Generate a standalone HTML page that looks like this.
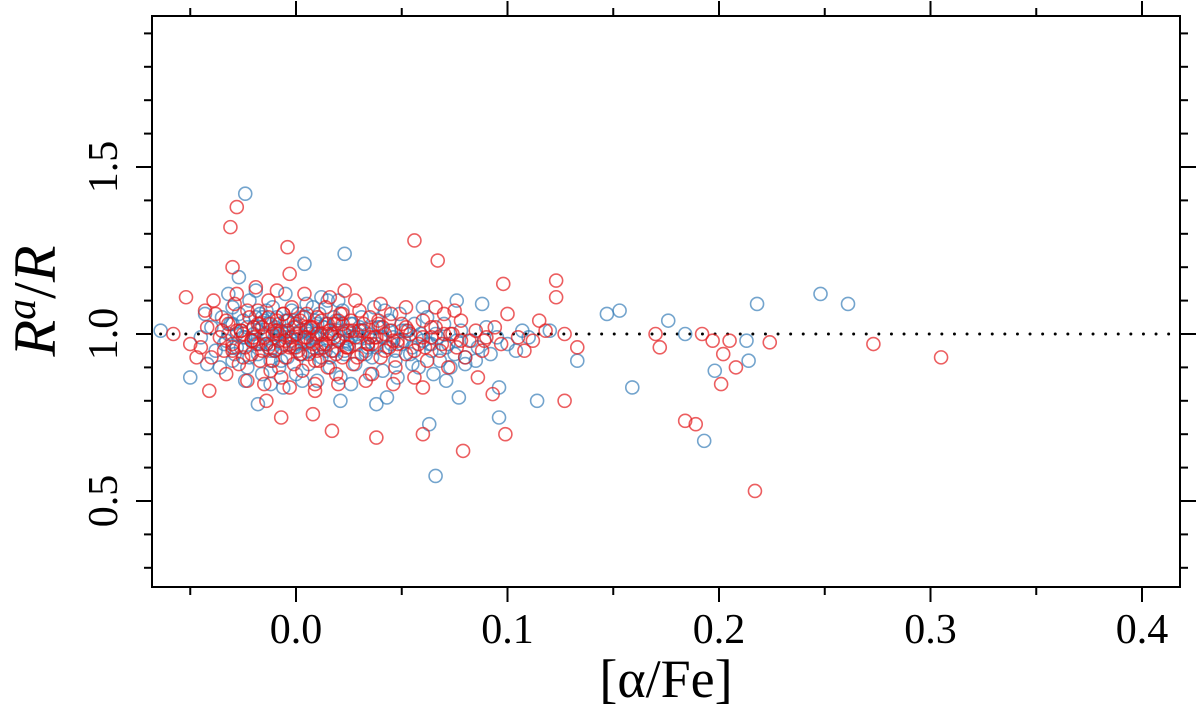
<!DOCTYPE html>
<html><head><meta charset="utf-8"><style>
html,body{margin:0;padding:0;background:#fff;}
svg{display:block;font-family:"Liberation Serif",serif;}
</style></head><body>
<svg id="chart" width="1200" height="719" viewBox="0 0 1200 719">
<g id="ticks"></g>
<g id="pts"></g>
<rect x="152" y="16" width="1028" height="571" fill="none" stroke="#000" stroke-width="2"/>
<g id="labels"></g>
<text x="666" y="697" font-size="54" text-anchor="middle">[α/Fe]</text>
<text transform="translate(55,301) rotate(-90)" font-size="60" text-anchor="middle" font-style="italic">R<tspan font-size="42" dy="-20">a</tspan><tspan dy="20" font-style="normal">/</tspan>R</text>
</svg>
<script>
const xTicks=[0.0,0.1,0.2,0.3,0.4];
const xTickLabels=["0.0","0.1","0.2","0.3","0.4"];
const yTicks=[0.5,1.0,1.5];
const yTickLabels=["0.5","1.0","1.5"];
const blueX=[-0.024,0.023,0.004,0.066,0.248,0.261,0.218,0.193,-0.05,-0.064,0.147,0.153,0.159,0.176,0.184,0.198,0.213,0.214,0.133,0.114,0.107,0.096,0.096,0.12,0.088,0.076,0.063,-0.018,0.038,0.043,0.021,0.077,0.071,0.08,
-0.04,-0.038,-0.035,-0.033,-0.03,-0.03,-0.028,-0.026,-0.025,-0.023,-0.022,-0.02,-0.02,-0.018,-0.017,-0.016,-0.015,-0.014,-0.013,-0.012,-0.011,-0.01,-0.01,-0.009,-0.008,-0.007,-0.006,-0.005,-0.005,-0.004,-0.003,-0.002,-0.001,0,0,0.001,0.002,0.003,0.004,0.005,0.006,0.007,0.008,0.009,0.01,0.01,0.011,0.012,0.013,0.014,0.015,0.016,0.017,0.018,0.019,0.02,0.021,0.022,0.023,0.024,0.025,0.027,0.028,0.03,0.031,0.033,0.034,0.036,0.037,0.038,0.04,0.041,0.043,0.044,0.046,0.047,0.049,0.05,0.052,0.054,0.056,0.058,0.06,0.062,0.064,0.066,0.068,0.07,0.072,0.075,0.078,0.08,0.083,0.086,0.09,0.092,0.095,
-0.045,-0.043,-0.042,-0.036,-0.032,-0.027,-0.024,-0.019,-0.012,-0.006,0.003,0.012,0.02,0.026,0.035,0.042,0.048,0.055,0.06,0.065,0.073,0.085,0.1,0.104,0.11,
-0.02,-0.015,-0.01,-0.005,0,0.005,0.01,0.015,-0.025,-0.018,-0.008,0.002,0.008,0.014,0.02,0.026,-0.03,0.03,-0.012,0.006,
-0.034,-0.031,-0.029,-0.027,-0.024,-0.022,-0.019,-0.017,-0.014,-0.012,-0.009,-0.007,-0.004,-0.002,0.001,0.003,0.006,0.008,0.011,0.013,0.016,0.018,0.021,0.023,0.026,0.028,0.031,0.033,0.036,0.038,0.041,0.044,0.047,0.051,0.055,0.059,0.063,0.067,0.071,0.076,
-0.032,-0.028,-0.023,-0.019,-0.016,-0.011,-0.006,-0.001,0.004,0.009,0.014,0.019,0.024,0.029,0.034,0.039,0.045,0.05,0.057,0.064];
const blueY=[1.42,1.24,1.21,0.575,1.12,1.09,1.09,0.68,0.87,1.01,1.06,1.07,0.84,1.04,1.0,0.89,0.98,0.92,0.92,0.80,1.01,0.75,0.84,1.01,1.09,1.10,0.73,0.79,0.79,0.81,0.80,0.81,0.86,0.91,
1.02,0.95,1.05,0.98,0.92,1.08,1.0,0.96,1.04,0.9,1.1,0.98,1.02,0.94,1.06,0.88,1.0,0.97,1.03,0.92,1.08,0.99,0.95,1.05,0.9,1.01,0.97,1.12,1.04,0.93,0.99,1.07,0.96,1.02,0.88,1.0,0.94,1.05,0.98,1.09,0.91,1.01,0.96,1.04,0.86,0.99,1.06,0.93,1.02,0.97,1.1,0.9,1.0,0.95,1.04,0.98,0.87,1.07,0.94,1.01,0.97,1.03,0.91,0.99,1.05,0.95,1.0,0.93,1.08,0.97,1.02,0.89,0.96,1.04,0.99,0.92,1.06,0.97,1.01,0.94,1.03,0.9,0.98,1.05,0.95,1.0,0.92,1.03,0.97,0.94,1.01,0.93,0.98,0.96,1.02,0.94,0.99,
0.99,1.06,0.91,0.9,1.12,1.17,0.86,1.13,0.85,0.84,0.86,1.11,1.1,0.85,0.88,1.07,0.87,0.91,1.08,0.88,0.9,0.92,0.97,0.95,0.99,
1.0,1.04,1.02,0.99,0.97,1.01,1.03,0.98,0.99,1.01,1.03,1.01,0.99,1.03,1.01,0.99,1.03,1.02,0.97,0.95,
0.97,1.03,0.94,1.06,0.99,0.93,1.05,0.97,1.07,0.95,1.0,0.92,1.04,0.98,1.06,0.94,1.0,1.08,0.96,1.02,0.93,1.05,0.99,0.95,1.03,0.97,1.01,0.94,1.02,0.96,0.99,1.01,0.95,0.98,0.96,1.0,0.97,0.99,0.96,0.98,
1.0,0.96,1.02,0.97,1.05,0.96,1.0,1.04,0.97,1.0,0.95,1.03,0.98,1.0,0.96,1.02,0.97,1.01,0.99,0.97];
const redX=[-0.028,-0.031,-0.052,-0.03,-0.004,0.056,0.067,-0.003,0.023,0.098,0.123,0.123,0.115,0.127,0.133,0.127,0.099,0.06,0.038,0.079,0.017,-0.007,0.008,-0.041,-0.014,0.184,0.189,0.217,0.192,0.197,0.202,0.205,0.208,0.201,0.224,0.273,0.305,0.172,0.17,0.089,0.093,
-0.045,-0.042,-0.04,-0.038,-0.036,-0.034,-0.032,-0.03,-0.029,-0.027,-0.026,-0.024,-0.022,-0.021,-0.02,-0.018,-0.017,-0.016,-0.014,-0.013,-0.012,-0.011,-0.01,-0.009,-0.008,-0.007,-0.006,-0.005,-0.004,-0.003,-0.002,-0.001,0,0.001,0.002,0.003,0.004,0.005,0.006,0.007,0.008,0.009,0.01,0.011,0.012,0.013,0.014,0.015,0.016,0.017,0.018,0.019,0.02,0.021,0.022,0.023,0.024,0.026,0.027,0.028,0.03,0.031,0.032,0.034,0.035,0.036,0.038,0.039,0.04,0.042,0.044,0.045,0.047,0.048,0.05,0.052,0.054,0.056,0.058,0.06,0.062,0.064,0.066,0.068,0.07,0.072,0.074,0.076,0.078,0.08,0.082,0.085,0.088,0.09,0.094,0.097,0.1,0.105,0.108,0.112,0.118,
-0.058,-0.05,-0.047,-0.043,-0.039,-0.033,-0.028,-0.023,-0.019,-0.015,-0.009,-0.003,0.004,0.009,0.016,0.02,0.028,0.033,0.04,0.046,0.052,0.06,0.066,0.075,0.086,
-0.02,-0.015,-0.01,-0.005,0,0.005,0.01,0.015,-0.025,-0.012,-0.002,0.008,0.018,0.025,-0.035,0.035,-0.007,0.012,0.022,-0.018,
-0.033,-0.03,-0.028,-0.025,-0.023,-0.021,-0.018,-0.016,-0.013,-0.011,-0.008,-0.006,-0.003,-0.001,0.002,0.004,0.007,0.009,0.012,0.014,0.017,0.019,0.022,0.024,0.027,0.029,0.032,0.034,0.037,0.039,0.042,0.045,0.048,0.052,0.056,0.06,0.064,0.069,0.073,0.078,
-0.03,-0.026,-0.021,-0.017,-0.013,-0.009,-0.004,0.0,0.005,0.01,0.015,0.02,0.025,0.03,0.036,0.041,0.046,0.053,0.061,0.07];
const redY=[1.38,1.32,1.11,1.20,1.26,1.28,1.22,1.18,1.13,1.15,1.16,1.11,1.04,1.0,0.96,0.80,0.70,0.70,0.69,0.65,0.71,0.75,0.76,0.83,0.80,0.74,0.73,0.53,1.0,0.98,0.94,0.98,0.90,0.85,0.975,0.97,0.93,0.96,1.0,0.98,0.82,
0.96,1.02,0.93,1.06,0.99,0.95,1.03,0.97,1.09,0.91,1.01,0.96,1.05,0.94,0.99,1.07,0.92,1.02,0.97,1.1,0.89,1.0,0.95,1.04,0.98,0.87,1.06,0.93,1.01,0.97,1.08,0.91,1.0,0.95,1.04,0.89,0.99,1.06,0.94,1.02,0.97,0.85,1.05,0.92,1.0,0.96,1.08,0.9,1.01,0.95,1.03,0.88,0.98,1.06,0.93,1.0,0.96,1.04,0.91,0.99,1.07,0.94,1.01,0.97,1.05,0.88,0.99,1.03,0.93,1.0,0.96,1.06,0.9,0.98,1.03,0.94,1.0,0.87,0.97,1.04,0.92,0.99,1.02,0.95,1.06,0.9,1.0,0.96,1.04,0.93,0.98,1.01,0.95,0.99,1.02,0.97,1.06,0.99,0.95,0.98,1.01,
1.0,0.97,0.93,1.07,1.1,0.88,1.12,0.86,1.14,0.85,1.13,0.84,1.12,0.83,1.11,0.85,1.1,0.86,1.09,0.85,1.08,0.84,1.08,1.07,0.87,
1.02,0.99,1.01,0.98,1.03,0.99,1.0,1.03,1.0,1.03,0.99,1.02,0.99,1.01,1.01,0.99,0.96,0.97,1.03,0.97,
1.04,0.96,1.01,0.93,1.07,0.98,1.03,0.95,1.05,0.92,1.0,1.06,0.96,1.02,0.94,1.05,0.98,0.92,1.04,0.97,1.0,0.94,1.06,0.96,1.01,0.93,1.03,0.97,0.99,1.04,0.95,1.01,0.97,1.02,0.95,0.99,1.02,0.97,1.0,0.98,
0.95,1.01,0.98,1.03,0.96,1.01,1.04,0.96,1.02,0.95,1.0,1.04,0.96,1.01,0.97,1.02,0.98,1.01,0.96,1.0];
const NS='http://www.w3.org/2000/svg';
const L=152,R=1180,T=16,B=587;
const sx=v=>296+v*2115;
const sy=v=>334-(v-1)*334;
function mk(tag,attrs,parent){const e=document.createElementNS(NS,tag);for(const k in attrs)e.setAttribute(k,attrs[k]);parent.appendChild(e);return e;}
const tg=document.getElementById('ticks');
const lg=document.getElementById('labels');
const pg=document.getElementById('pts');
for(let i=-1;i<=8;i++){const v=i*0.05;const x=sx(v);if(x<L||x>R)continue;const maj=i%2===0;
 const t1=mk('line',{x1:x,x2:x,y1:B,y2:B+(maj?15:8),stroke:'#000','stroke-width':2},tg);
 
 
 const t2=mk('line',{x1:x,x2:x,y1:T,y2:T-(maj?15:8),stroke:'#000','stroke-width':2},tg);
 
 }
for(let i=3;i<=19;i++){const v=i/10;const y=sy(v);const maj=(i%5===0);
 const t1=mk('line',{x1:L,x2:L-(maj?16:8),y1:y,y2:y,stroke:'#000','stroke-width':2},tg);
 
 
 const t2=mk('line',{x1:R,x2:R+(maj?16:8),y1:y,y2:y,stroke:'#000','stroke-width':2},tg);
 
 }
xTicks.forEach((v,i)=>{const t=mk('text',{x:sx(v),y:643,'font-size':42,'text-anchor':'middle'},lg);t.textContent=xTickLabels[i];
 
 });
yTicks.forEach((v,i)=>{const t=mk('text',{transform:`translate(117,${sy(v)}) rotate(-90)`,'font-size':42,'text-anchor':'middle'},lg);t.textContent=yTickLabels[i];
 
 });
const ref=mk('line',{x1:sx(-0.064),x2:R-4,y1:sy(1),y2:sy(1),stroke:'#000','stroke-width':3,'stroke-linecap':'round','stroke-dasharray':'0 12.6'},tg);


function series(xs,ys,col,name){xs.forEach((v,i)=>{const c=mk('circle',{cx:sx(v),cy:sy(ys[i]),r:6.5,fill:'none',stroke:col,'stroke-width':1.6,'stroke-opacity':0.7},pg);
 
 });}
series(blueX,blueY,'#377eb8','blue-point');
series(redX,redY,'#e41a1c','red-point');
</script>
</body></html>
